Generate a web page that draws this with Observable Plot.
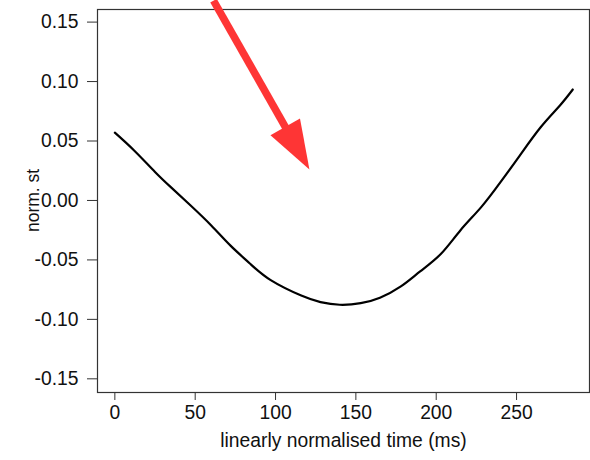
<!DOCTYPE html>
<html>
<head>
<meta charset="utf-8">
<script src="https://cdn.jsdelivr.net/npm/d3@7"></script>
<script src="https://cdn.jsdelivr.net/npm/@observablehq/plot@0.6"></script>
<style>
  html, body { margin: 0; padding: 0; background: white; }
</style>
</head>
<body>
<div id="chart"></div>
<script>
// Data
const timeMs = [0, 12, 25, 35, 47, 60, 72, 84, 97, 116, 128, 140, 153, 165, 178, 190, 203, 215, 228, 240, 252, 265, 277, 285];
const normSt = [0.057, 0.042, 0.024, 0.011, -0.004, -0.021, -0.038, -0.053, -0.067, -0.080, -0.0855, -0.0877, -0.0864, -0.0818, -0.0723, -0.0597, -0.0448, -0.0252, -0.0056, 0.0154, 0.0378, 0.0616, 0.0799, 0.0933];
const xTicks = [0, 50, 100, 150, 200, 250];
const yTicks = [-0.15, -0.10, -0.05, 0, 0.05, 0.10, 0.15];
const xLabel = "linearly normalised time (ms)";
const yLabel = "norm. st";
// annotation arrow (data units): tail, shaft end, tip
const arrowTail = [61.4, 0.168];
const arrowShaftEnd = [115.0, 0.0407];
const arrowTip = [121.1, 0.026];

const data = timeMs.map((t, i) => ({t, v: normSt[i]}));

// filled arrow head pointing along the arrow direction (pixel geometry)
const ux = 0.494, uy = 0.869, headLen = 49, headHalf = 17;
const headSymbol = {
  draw(context) {
    const bx = -headLen * ux, by = -headLen * uy;
    const px = uy, py = -ux;
    context.moveTo(0, 0);
    context.lineTo(bx + headHalf * px, by + headHalf * py);
    context.lineTo(bx - headHalf * px, by - headHalf * py);
    context.closePath();
  }
};

const red = "#fe3535";

const chart = Plot.plot({
  width: 590,
  height: 460,
  marginLeft: 97,
  marginRight: 1,
  marginTop: 9,
  marginBottom: 68,
  x: {domain: [-10.8, 295.4]},
  y: {domain: [-0.1615, 0.1606]},
  style: {fontFamily: "'Liberation Sans', Arial, sans-serif", fontSize: "19px", background: "white", color: "#111"},
  marks: [
    Plot.frame({stroke: "#333", strokeWidth: 1.2}),
    Plot.axisX({ticks: xTicks, tickSize: 8, tickPadding: 5, tickFormat: d => String(d), label: null, fontSize: 19.3, stroke: "#333"}),
    Plot.axisY({ticks: yTicks, tickSize: 10, tickPadding: 9, tickFormat: d => d.toFixed(2), label: null, fontSize: 19.3, stroke: "#333"}),
    Plot.text([xLabel], {frameAnchor: "bottom", dy: 54, text: d => d, fontSize: 19.3}),
    Plot.text([yLabel], {x: () => -10.8, y: () => 0, dx: -64, rotate: -90, text: d => d, fontSize: 17.5}),
    Plot.line(data, {x: "t", y: "v", curve: "natural", stroke: "black", strokeWidth: 2.2}),
    Plot.link([0], {x1: () => arrowTail[0], y1: () => arrowTail[1], x2: () => arrowShaftEnd[0], y2: () => arrowShaftEnd[1], stroke: red, strokeWidth: 7.5}),
    Plot.dot([0], {x: () => arrowTip[0], y: () => arrowTip[1], symbol: headSymbol, fill: red, stroke: "none"})
  ]
});
document.getElementById("chart").appendChild(chart);
</script>
</body>
</html>
